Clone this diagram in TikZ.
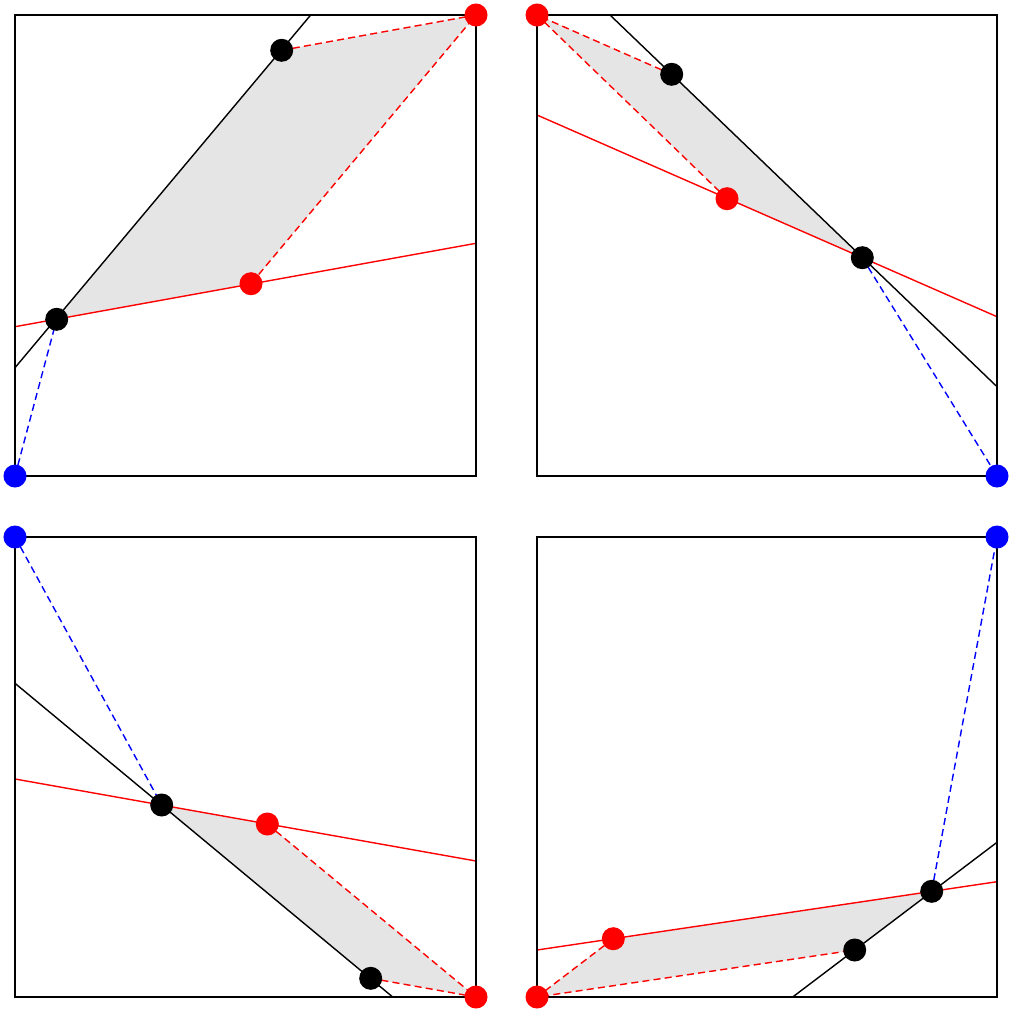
\documentclass[tikz,border=0pt]{standalone}
\usepackage{tikz}
\usetikzlibrary{positioning,calc}
\tikzset{
  pt/.style={circle,fill,inner sep=0pt,minimum size=2.3mm},
  redpt/.style={pt,red},
  bluept/.style={pt,blue},
  blackpt/.style={pt,black},
  panel/.style={draw=black,line width=0.65pt},
  cutline/.style={black,line width=0.4pt},
  redline/.style={red,line width=0.4pt},
  reddash/.style={red,line width=0.4pt,dash pattern=on 2pt off 1.2pt},
  bluedash/.style={blue,line width=0.4pt,dash pattern=on 2pt off 1.2pt},
  hull/.style={fill=black!10,draw=none}
}

\begin{document}
\begin{tikzpicture}[x=0.01cm,y=-0.01cm]
  \useasboundingbox (0,0) rectangle (1012,1012);

  \coordinate (b1) at (15,476);   \coordinate (r1) at (476,15);
  \coordinate (a1) at (56.7,319.3); \coordinate (c1) at (281.7,50.3);
  \coordinate (e1) at (251,283.7);
  \coordinate (r2) at (537,15);   \coordinate (b2) at (997,476);
  \coordinate (d2) at (671.7,74.3); \coordinate (e2) at (727,198.7);
  \coordinate (f2) at (862.3,257.7);
  \coordinate (b3) at (15,537);   \coordinate (r3) at (476,997);
  \coordinate (g3) at (161.7,805); \coordinate (h3) at (267.3,824);
  \coordinate (i3) at (370.7,978.3);
  \coordinate (b4) at (997,537);  \coordinate (r4) at (537,997);
  \coordinate (j4) at (613.3,938.7); \coordinate (k4) at (854.7,950);
  \coordinate (l4) at (931.7,891.3);

  \fill[hull] (a1) -- (c1) -- (r1) -- (e1) -- cycle;
  \fill[hull] (r2) -- (d2) -- (f2) -- (e2) -- cycle;
  \fill[hull] (g3) -- (h3) -- (r3) -- (i3) -- cycle;
  \fill[hull] (r4) -- (j4) -- (l4) -- (k4) -- cycle;

  \coordinate (k1s) at (15,367.7);  \coordinate (k1e) at (310.7,15);
  \coordinate (m1s) at (15,326.7);  \coordinate (m1e) at (476,243.3);
  \coordinate (k2s) at (610,15);    \coordinate (k2e) at (997,386.7);
  \coordinate (m2s) at (537,115);   \coordinate (m2e) at (997,316.7);
  \coordinate (k3s) at (15,683.3);  \coordinate (k3e) at (392.7,997);
  \coordinate (m3s) at (15,779);    \coordinate (m3e) at (476,861);
  \coordinate (k4s) at (792.7,997); \coordinate (k4e) at (997,842.3);
  \coordinate (m4s) at (537,950);   \coordinate (m4e) at (997,881.7);

  \draw[cutline] (k1s) -- (k1e);
  \draw[redline] (m1s) -- (m1e);
  \draw[cutline] (k2s) -- (k2e);
  \draw[redline] (m2s) -- (m2e);
  \draw[cutline] (k3s) -- (k3e);
  \draw[redline] (m3s) -- (m3e);
  \draw[cutline] (k4s) -- (k4e);
  \draw[redline] (m4s) -- (m4e);

  \draw[reddash] (c1) -- (r1) -- (e1);
  \draw[reddash] (d2) -- (r2) -- (e2);
  \draw[reddash] (h3) -- (r3) -- (i3);
  \draw[reddash] (j4) -- (r4) -- (k4);
  \draw[bluedash] (b1) -- (a1);
  \draw[bluedash] (f2) -- (b2);
  \draw[bluedash] (b3) -- (g3);
  \draw[bluedash] (l4) -- (b4);

  \draw[panel] (15,15) rectangle (476,476);
  \draw[panel] (537,15) rectangle (997,476);
  \draw[panel] (15,537) rectangle (476,997);
  \draw[panel] (537,537) rectangle (997,997);

  \node[bluept] at (b1) {};  \node[redpt] at (r1) {};
  \node[blackpt] at (a1) {}; \node[blackpt] at (c1) {};
  \node[redpt] at (e1) {};
  \node[redpt] at (r2) {};   \node[bluept] at (b2) {};
  \node[blackpt] at (d2) {}; \node[redpt] at (e2) {};
  \node[blackpt] at (f2) {};
  \node[bluept] at (b3) {};  \node[redpt] at (r3) {};
  \node[blackpt] at (g3) {}; \node[redpt] at (h3) {};
  \node[blackpt] at (i3) {};
  \node[bluept] at (b4) {};  \node[redpt] at (r4) {};
  \node[redpt] at (j4) {};   \node[blackpt] at (k4) {};
  \node[blackpt] at (l4) {};
\end{tikzpicture}
\end{document}
